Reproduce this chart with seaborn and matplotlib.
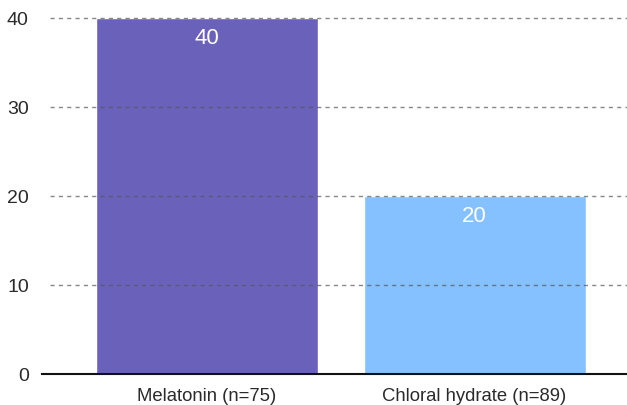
import matplotlib
matplotlib.use("Agg")
import matplotlib.pyplot as plt
import seaborn as sns
import pandas as pd

categories = ["Melatonin (n=75)", "Chloral hydrate (n=89)"]
values = [40, 20]
colors = ["#6A62BA", "#85C1FF"]
y_ticks = [0, 10, 20, 30, 40]

sns.set_theme(style="white")
plt.rcParams["font.family"] = ["Liberation Sans", "DejaVu Sans"]

df = pd.DataFrame({"group": categories, "value": values})

fig = plt.figure(figsize=(6.27, 4.05), dpi=100)
ax = fig.add_axes([0.067, 0.0765, 0.933, 0.879])

sns.barplot(data=df, x="group", y="value", hue="group", palette=colors,
            width=0.83, legend=False, ax=ax, saturation=1)

ax.set_xlim(-0.617, 1.57)
ax.set_ylim(0, 40)
ax.set_yticks(y_ticks)
ax.set_xlabel("")
ax.set_ylabel("")

for y in y_ticks[1:]:
    ax.axhline(y, xmin=0.0137, xmax=1, color="#555555", linestyle=(0, (3, 3)),
               linewidth=1.0, alpha=0.7, zorder=5, clip_on=False)

for s in ["top", "right", "left"]:
    ax.spines[s].set_visible(False)
ax.spines["bottom"].set_color("#111111")
ax.spines["bottom"].set_linewidth(1.5)
ax.spines["bottom"].set_zorder(6)

ax.tick_params(axis="y", length=0, labelsize=14, labelcolor="#2a2a2a", pad=9.5)
ax.tick_params(axis="x", length=0, labelsize=13.3, labelcolor="#2a2a2a", pad=10)

for patch, v in zip(ax.patches, values):
    cx = patch.get_x() + patch.get_width() / 2
    ax.annotate(f"{v}", xy=(cx, v), xytext=(0, -15), textcoords="offset points",
                ha="center", va="center", color="white", fontsize=16, zorder=7)

fig.savefig("out.png", dpi=100)
